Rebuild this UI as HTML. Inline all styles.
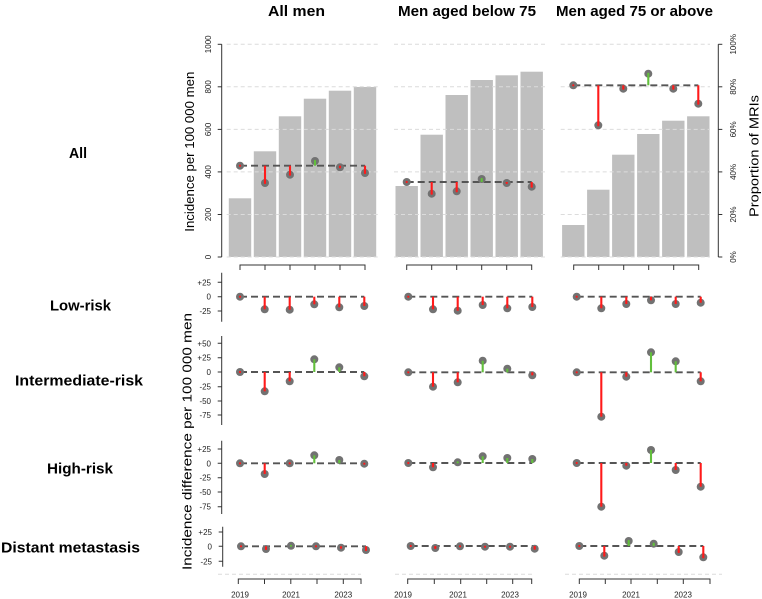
<!DOCTYPE html>
<html><head><meta charset="utf-8"><style>
html,body{margin:0;padding:0;background:#fff;}
svg{display:block;}
.t{font-family:"Liberation Sans",sans-serif;}
.b{font-family:"Liberation Sans",sans-serif;font-weight:bold;fill:#000;}
.grid{stroke:#dcdcdc;stroke-width:1;stroke-dasharray:4,3;}
.ax{stroke:#333;stroke-width:1;fill:none;}
.ref{stroke:#555;stroke-width:1.9;stroke-dasharray:7,4;}
.bar{fill:#bfbfbf;}
.pt{fill:#727272;}
.r{stroke:#ff1a1a;stroke-width:2.1;}
.g{stroke:#62bf3c;stroke-width:2.1;}
.rd{fill:#ff1a1a;}
.gd{fill:#62bf3c;}
.tl{font-family:"Liberation Sans",sans-serif;font-size:8px;fill:#222;}
</style></head><body>
<svg width="762" height="599" viewBox="0 0 762 599" xmlns="http://www.w3.org/2000/svg">
<!-- headers -->
<text class="b" x="296.5" y="16" font-size="14.5" text-anchor="middle" textLength="57" lengthAdjust="spacingAndGlyphs">All men</text>
<text class="b" x="467" y="16" font-size="14.5" text-anchor="middle" textLength="138" lengthAdjust="spacingAndGlyphs">Men aged below 75</text>
<text class="b" x="634.5" y="16" font-size="14.5" text-anchor="middle" textLength="157" lengthAdjust="spacingAndGlyphs">Men aged 75 or above</text>
<!-- row labels -->
<text class="b" x="78" y="158" font-size="15" text-anchor="middle" textLength="18" lengthAdjust="spacingAndGlyphs">All</text>
<text class="b" x="80.5" y="310.5" font-size="15" text-anchor="middle" textLength="61" lengthAdjust="spacingAndGlyphs">Low-risk</text>
<text class="b" x="79" y="385.5" font-size="15" text-anchor="middle" textLength="128" lengthAdjust="spacingAndGlyphs">Intermediate-risk</text>
<text class="b" x="80" y="473.5" font-size="15" text-anchor="middle" textLength="66" lengthAdjust="spacingAndGlyphs">High-risk</text>
<text class="b" x="70.5" y="552.5" font-size="15" text-anchor="middle" textLength="139" lengthAdjust="spacingAndGlyphs">Distant metastasis</text>
<!-- axis titles -->
<text class="t" font-size="13" fill="#000" text-anchor="middle" transform="translate(194,151.7) rotate(-90)" textLength="160" lengthAdjust="spacingAndGlyphs">Incidence per 100 000 men</text>
<text class="t" font-size="13" fill="#000" text-anchor="middle" transform="translate(191.5,441.5) rotate(-90)" textLength="257" lengthAdjust="spacingAndGlyphs">Incidence difference per 100 000 men</text>
<text class="t" font-size="13" fill="#000" text-anchor="middle" transform="translate(758.5,156) rotate(-90)" textLength="122" lengthAdjust="spacingAndGlyphs">Proportion of MRIs</text>

<!-- top bars -->
<rect class="bar" x="228.8" y="198.3" width="22.4" height="58.7"/>
<rect class="bar" x="253.8" y="151.3" width="22.4" height="105.7"/>
<rect class="bar" x="278.8" y="116.3" width="22.4" height="140.7"/>
<rect class="bar" x="303.8" y="98.7" width="22.4" height="158.3"/>
<rect class="bar" x="328.8" y="90.7" width="22.4" height="166.3"/>
<rect class="bar" x="353.8" y="87" width="22.4" height="170"/>

<rect class="bar" x="395.5" y="186" width="22.4" height="71"/>
<rect class="bar" x="420.5" y="134.7" width="22.4" height="122.3"/>
<rect class="bar" x="445.5" y="95" width="22.4" height="162"/>
<rect class="bar" x="470.5" y="80" width="22.4" height="177"/>
<rect class="bar" x="495.5" y="75.3" width="22.4" height="181.7"/>
<rect class="bar" x="520.5" y="71.7" width="22.4" height="185.3"/>

<rect class="bar" x="562.1" y="225" width="22.4" height="32"/>
<rect class="bar" x="587.1" y="189.7" width="22.4" height="67.3"/>
<rect class="bar" x="612.1" y="154.7" width="22.4" height="102.3"/>
<rect class="bar" x="637.1" y="134" width="22.4" height="123"/>
<rect class="bar" x="662.1" y="120.7" width="22.4" height="136.3"/>
<rect class="bar" x="687.1" y="116.3" width="22.4" height="140.7"/>

<!-- gridlines -->
<g class="grid">
<line x1="226.7" y1="44.3" x2="378.3" y2="44.3"/><line x1="226.7" y1="86.8" x2="378.3" y2="86.8"/><line x1="226.7" y1="129.4" x2="378.3" y2="129.4"/><line x1="226.7" y1="171.9" x2="378.3" y2="171.9"/><line x1="226.7" y1="214.5" x2="378.3" y2="214.5"/><line x1="226.7" y1="257" x2="378.3" y2="257"/>
<line x1="394" y1="44.3" x2="545" y2="44.3"/><line x1="394" y1="86.8" x2="545" y2="86.8"/><line x1="394" y1="129.4" x2="545" y2="129.4"/><line x1="394" y1="171.9" x2="545" y2="171.9"/><line x1="394" y1="214.5" x2="545" y2="214.5"/><line x1="394" y1="257" x2="545" y2="257"/>
<line x1="560.7" y1="44.3" x2="710" y2="44.3"/><line x1="560.7" y1="86.8" x2="710" y2="86.8"/><line x1="560.7" y1="129.4" x2="710" y2="129.4"/><line x1="560.7" y1="171.9" x2="710" y2="171.9"/><line x1="560.7" y1="214.5" x2="710" y2="214.5"/><line x1="560.7" y1="257" x2="710" y2="257"/>
<line x1="218" y1="574.3" x2="361" y2="574.3"/><line x1="395" y1="574.3" x2="532" y2="574.3"/><line x1="565" y1="574.3" x2="722" y2="574.3"/>
</g>

<!-- left top axis -->
<g class="ax">
<line x1="221.7" y1="44.3" x2="221.7" y2="257"/>
<line x1="217.7" y1="44.3" x2="221.7" y2="44.3"/><line x1="217.7" y1="86.8" x2="221.7" y2="86.8"/><line x1="217.7" y1="129.4" x2="221.7" y2="129.4"/><line x1="217.7" y1="171.9" x2="221.7" y2="171.9"/><line x1="217.7" y1="214.5" x2="221.7" y2="214.5"/><line x1="217.7" y1="257" x2="221.7" y2="257"/>
<line x1="718.3" y1="44.3" x2="718.3" y2="257"/>
<line x1="718.3" y1="44.3" x2="722.3" y2="44.3"/><line x1="718.3" y1="86.8" x2="722.3" y2="86.8"/><line x1="718.3" y1="129.4" x2="722.3" y2="129.4"/><line x1="718.3" y1="171.9" x2="722.3" y2="171.9"/><line x1="718.3" y1="214.5" x2="722.3" y2="214.5"/><line x1="718.3" y1="257" x2="722.3" y2="257"/>
</g>
<g class="tl" text-anchor="middle">
<text transform="translate(211,257) rotate(-90)">0</text>
<text transform="translate(211,214.5) rotate(-90)">200</text>
<text transform="translate(211,171.9) rotate(-90)">400</text>
<text transform="translate(211,129.4) rotate(-90)">600</text>
<text transform="translate(211,86.8) rotate(-90)">800</text>
<text transform="translate(211,44.3) rotate(-90)">1000</text>
<text transform="translate(736,257) rotate(-90)">0%</text>
<text transform="translate(736,214.5) rotate(-90)">20%</text>
<text transform="translate(736,171.9) rotate(-90)">40%</text>
<text transform="translate(736,129.4) rotate(-90)">60%</text>
<text transform="translate(736,86.8) rotate(-90)">80%</text>
<text transform="translate(736,44.3) rotate(-90)">100%</text>
</g>

<!-- top tick rows (between panels) -->
<g class="ax">
<path d="M240,270V265H365V270M265,265V270M290,265V270M315,265V270M340,265V270"/>
<path d="M406.7,270V265H531.7V270M431.7,265V270M456.7,265V270M481.7,265V270M506.7,265V270"/>
<path d="M573.7,270V265H698.7V270M598.7,265V270M623.7,265V270M648.7,265V270M673.7,265V270"/>
<!-- bottom axes -->
<path d="M238.3,584V579H361V584M264.5,579V584M290.8,579V584M317,579V584M343.3,579V584"/>
<path d="M407.7,584V579H531.7V584M434.3,579V584M460.7,579V584M486.7,579V584M512.7,579V584"/>
<path d="M579.3,584V579H710V584M605.3,579V584M631,579V584M657.3,579V584M683.3,579V584"/>
<!-- small y axes -->
<path d="M221.7,272.7V321.7M217.7,282.3H221.7M217.7,296.7H221.7M217.7,311H221.7"/>
<path d="M221.7,336V425M217.7,343.3H221.7M217.7,357.7H221.7M217.7,372H221.7M217.7,386.7H221.7M217.7,401H221.7M217.7,415H221.7"/>
<path d="M221.7,440.7V514M217.7,449H221.7M217.7,463.3H221.7M217.7,477.7H221.7M217.7,492H221.7M217.7,506.7H221.7"/>
<path d="M222.7,526.7V566.7M218.7,532H222.7M218.7,546.3H222.7M218.7,561.3H222.7"/>
</g>
<g class="tl" text-anchor="end">
<text x="211" y="285.3">+25</text><text x="211" y="299.7">0</text><text x="211" y="314">-25</text>
<text x="211" y="346.3">+50</text><text x="211" y="360.7">+25</text><text x="211" y="375">0</text><text x="211" y="389.7">-25</text><text x="211" y="404">-50</text><text x="211" y="418">-75</text>
<text x="211" y="452">+25</text><text x="211" y="466.3">0</text><text x="211" y="480.7">-25</text><text x="211" y="495">-50</text><text x="211" y="509.7">-75</text>
<text x="212" y="535">+25</text><text x="212" y="549.3">0</text><text x="212" y="564.3">-25</text>
</g>
<g class="tl" text-anchor="middle" font-size="8.8">
<text x="240" y="597.5">2019</text><text x="291" y="597.5">2021</text><text x="343.3" y="597.5">2023</text>
<text x="403" y="597.5">2019</text><text x="458" y="597.5">2021</text><text x="510" y="597.5">2023</text>
<text x="578" y="597.5">2019</text><text x="631" y="597.5">2021</text><text x="683" y="597.5">2023</text>
</g>

<!-- reference dashed lines -->
<g class="ref">
<line x1="240" y1="165.7" x2="365" y2="165.7"/>
<line x1="406.7" y1="182" x2="531.7" y2="182"/>
<line x1="573.3" y1="85.3" x2="698.3" y2="85.3"/>
<line x1="240" y1="296.7" x2="364.3" y2="296.7"/>
<line x1="240" y1="372" x2="364.3" y2="372"/>
<line x1="240" y1="463.3" x2="364.3" y2="463.3"/>
<line x1="241" y1="546.3" x2="366" y2="546.3"/>
<line x1="408.3" y1="296.7" x2="532.3" y2="296.7"/>
<line x1="408.3" y1="372.3" x2="532.3" y2="372.3"/>
<line x1="408.3" y1="463" x2="532.3" y2="463"/>
<line x1="410.7" y1="546" x2="534.7" y2="546"/>
<line x1="576.7" y1="296.7" x2="700.7" y2="296.7"/>
<line x1="576.7" y1="372.3" x2="700.7" y2="372.3"/>
<line x1="576.7" y1="463" x2="700.7" y2="463"/>
<line x1="579.3" y1="546" x2="703.3" y2="546"/>
</g>

<!-- points -->
<g class="pt">
<circle cx="240" cy="165.7" r="4"/><circle cx="265" cy="183" r="4"/><circle cx="290" cy="174.7" r="4"/><circle cx="315" cy="161" r="4"/><circle cx="340" cy="167.3" r="4"/><circle cx="365" cy="173" r="4"/>
<circle cx="406.7" cy="182" r="4"/><circle cx="431.7" cy="193.7" r="4"/><circle cx="456.7" cy="191.3" r="4"/><circle cx="481.7" cy="179" r="4"/><circle cx="506.7" cy="183" r="4"/><circle cx="531.7" cy="186.7" r="4"/>
<circle cx="573.3" cy="85.3" r="4"/><circle cx="598.3" cy="125.3" r="4"/><circle cx="623.3" cy="88.7" r="4"/><circle cx="648.3" cy="73.7" r="4"/><circle cx="673.3" cy="88.7" r="4"/><circle cx="698.3" cy="103.7" r="4"/>

<circle cx="240" cy="296.7" r="4"/><circle cx="264.7" cy="309.3" r="4"/><circle cx="289.7" cy="309.7" r="4"/><circle cx="314.3" cy="304.3" r="4"/><circle cx="339.3" cy="307.3" r="4"/><circle cx="364.3" cy="306" r="4"/>
<circle cx="240" cy="372" r="4"/><circle cx="264.7" cy="391.3" r="4"/><circle cx="289.7" cy="381.3" r="4"/><circle cx="314.3" cy="359.3" r="4"/><circle cx="339.3" cy="367.3" r="4"/><circle cx="364.3" cy="376.3" r="4"/>
<circle cx="240" cy="463.3" r="4"/><circle cx="264.7" cy="474" r="4"/><circle cx="289.7" cy="463.3" r="4"/><circle cx="314.3" cy="455.3" r="4"/><circle cx="339.3" cy="460" r="4"/><circle cx="364.3" cy="463.7" r="4"/>
<circle cx="241" cy="546.3" r="4"/><circle cx="266" cy="549" r="4"/><circle cx="291" cy="545.8" r="4"/><circle cx="316" cy="546.3" r="4"/><circle cx="341" cy="547.7" r="4"/><circle cx="366" cy="550" r="4"/>

<circle cx="408.3" cy="296.7" r="4"/><circle cx="433" cy="309.3" r="4"/><circle cx="457.7" cy="310.7" r="4"/><circle cx="482.7" cy="305" r="4"/><circle cx="507.3" cy="308.3" r="4"/><circle cx="532.3" cy="307" r="4"/>
<circle cx="408.3" cy="372.3" r="4"/><circle cx="433" cy="386.7" r="4"/><circle cx="457.7" cy="382.3" r="4"/><circle cx="482.7" cy="360.7" r="4"/><circle cx="507.3" cy="368.7" r="4"/><circle cx="532.3" cy="375.3" r="4"/>
<circle cx="408.3" cy="463" r="4"/><circle cx="433" cy="467.3" r="4"/><circle cx="457.7" cy="462.3" r="4"/><circle cx="482.7" cy="456.3" r="4"/><circle cx="507.3" cy="458" r="4"/><circle cx="532.3" cy="459" r="4"/>
<circle cx="410.7" cy="546" r="4"/><circle cx="435.3" cy="548" r="4"/><circle cx="460" cy="546.3" r="4"/><circle cx="485" cy="546.7" r="4"/><circle cx="510" cy="546.7" r="4"/><circle cx="534.7" cy="548.7" r="4"/>

<circle cx="576.7" cy="296.7" r="4"/><circle cx="601.3" cy="308.3" r="4"/><circle cx="626.3" cy="304" r="4"/><circle cx="651" cy="300.3" r="4"/><circle cx="675.7" cy="304" r="4"/><circle cx="700.7" cy="302.7" r="4"/>
<circle cx="576.7" cy="372.3" r="4"/><circle cx="601.3" cy="416.7" r="4"/><circle cx="626.3" cy="376.7" r="4"/><circle cx="651" cy="352.3" r="4"/><circle cx="675.7" cy="361.3" r="4"/><circle cx="700.7" cy="381.3" r="4"/>
<circle cx="576.7" cy="463" r="4"/><circle cx="601.3" cy="506.7" r="4"/><circle cx="626.3" cy="465.7" r="4"/><circle cx="651" cy="450" r="4"/><circle cx="675.7" cy="470" r="4"/><circle cx="700.7" cy="486.7" r="4"/>
<circle cx="579.3" cy="546" r="4"/><circle cx="604.3" cy="555.7" r="4"/><circle cx="628.7" cy="541" r="4"/><circle cx="653.7" cy="543.7" r="4"/><circle cx="678.7" cy="552" r="4"/><circle cx="703.3" cy="557.3" r="4"/>
</g>

<!-- stems -->
<g class="r">
<line x1="265" y1="165.7" x2="265" y2="183"/><line x1="290" y1="165.7" x2="290" y2="174.7"/><line x1="340" y1="165.7" x2="340" y2="167.3"/><line x1="365" y1="165.7" x2="365" y2="173"/>
<line x1="431.7" y1="182" x2="431.7" y2="193.7"/><line x1="456.7" y1="182" x2="456.7" y2="191.3"/><line x1="506.7" y1="182" x2="506.7" y2="183"/><line x1="531.7" y1="182" x2="531.7" y2="186.7"/>
<line x1="598.3" y1="85.3" x2="598.3" y2="125.3"/><line x1="623.3" y1="85.3" x2="623.3" y2="88.7"/><line x1="673.3" y1="85.3" x2="673.3" y2="88.7"/><line x1="698.3" y1="85.3" x2="698.3" y2="103.7"/>

<line x1="264.7" y1="296.7" x2="264.7" y2="309.3"/><line x1="289.7" y1="296.7" x2="289.7" y2="309.7"/><line x1="314.3" y1="296.7" x2="314.3" y2="304.3"/><line x1="339.3" y1="296.7" x2="339.3" y2="307.3"/><line x1="364.3" y1="296.7" x2="364.3" y2="306"/>
<line x1="264.7" y1="372" x2="264.7" y2="391.3"/><line x1="289.7" y1="372" x2="289.7" y2="381.3"/><line x1="364.3" y1="372" x2="364.3" y2="376.3"/>
<line x1="264.7" y1="463.3" x2="264.7" y2="474"/><line x1="364.3" y1="463.3" x2="364.3" y2="463.7"/>
<line x1="266" y1="546.3" x2="266" y2="549"/><line x1="341" y1="546.3" x2="341" y2="547.7"/><line x1="366" y1="546.3" x2="366" y2="550"/>

<line x1="433" y1="296.7" x2="433" y2="309.3"/><line x1="457.7" y1="296.7" x2="457.7" y2="310.7"/><line x1="482.7" y1="296.7" x2="482.7" y2="305"/><line x1="507.3" y1="296.7" x2="507.3" y2="308.3"/><line x1="532.3" y1="296.7" x2="532.3" y2="307"/>
<line x1="433" y1="372.3" x2="433" y2="386.7"/><line x1="457.7" y1="372.3" x2="457.7" y2="382.3"/><line x1="532.3" y1="372.3" x2="532.3" y2="375.3"/>
<line x1="433" y1="463" x2="433" y2="467.3"/>
<line x1="435.3" y1="546" x2="435.3" y2="548"/><line x1="534.7" y1="546" x2="534.7" y2="548.7"/>

<line x1="601.3" y1="296.7" x2="601.3" y2="308.3"/><line x1="626.3" y1="296.7" x2="626.3" y2="304"/><line x1="651" y1="296.7" x2="651" y2="300.3"/><line x1="675.7" y1="296.7" x2="675.7" y2="304"/><line x1="700.7" y1="296.7" x2="700.7" y2="302.7"/>
<line x1="601.3" y1="372.3" x2="601.3" y2="416.7"/><line x1="626.3" y1="372.3" x2="626.3" y2="376.7"/><line x1="700.7" y1="372.3" x2="700.7" y2="381.3"/>
<line x1="601.3" y1="463" x2="601.3" y2="506.7"/><line x1="626.3" y1="463" x2="626.3" y2="465.7"/><line x1="675.7" y1="463" x2="675.7" y2="470"/><line x1="700.7" y1="463" x2="700.7" y2="486.7"/>
<line x1="604.3" y1="546" x2="604.3" y2="555.7"/><line x1="678.7" y1="546" x2="678.7" y2="552"/><line x1="703.3" y1="546" x2="703.3" y2="557.3"/>
</g>
<g class="g">
<line x1="315" y1="165.7" x2="315" y2="161"/>
<line x1="481.7" y1="182" x2="481.7" y2="179"/>
<line x1="648.3" y1="85.3" x2="648.3" y2="73.7"/>
<line x1="314.3" y1="372" x2="314.3" y2="359.3"/><line x1="339.3" y1="372" x2="339.3" y2="367.3"/>
<line x1="314.3" y1="463.3" x2="314.3" y2="455.3"/><line x1="339.3" y1="463.3" x2="339.3" y2="460"/>
<line x1="482.7" y1="372.3" x2="482.7" y2="360.7"/><line x1="507.3" y1="372.3" x2="507.3" y2="368.7"/>
<line x1="457.7" y1="463" x2="457.7" y2="462.3"/><line x1="482.7" y1="463" x2="482.7" y2="456.3"/><line x1="507.3" y1="463" x2="507.3" y2="458"/><line x1="532.3" y1="463" x2="532.3" y2="459"/>
<line x1="651" y1="372.3" x2="651" y2="352.3"/><line x1="675.7" y1="372.3" x2="675.7" y2="361.3"/>
<line x1="651" y1="463" x2="651" y2="450"/>
<line x1="628.7" y1="546" x2="628.7" y2="541"/><line x1="653.7" y1="546" x2="653.7" y2="543.7"/>
</g>
<!-- center dots -->
<g class="rd">
<circle cx="240" cy="165.7" r="1.1"/><circle cx="265" cy="183" r="1.1"/><circle cx="290" cy="174.7" r="1.1"/><circle cx="340" cy="167.3" r="1.1"/><circle cx="365" cy="173" r="1.1"/>
<circle cx="406.7" cy="182" r="1.1"/><circle cx="431.7" cy="193.7" r="1.1"/><circle cx="456.7" cy="191.3" r="1.1"/><circle cx="506.7" cy="183" r="1.1"/><circle cx="531.7" cy="186.7" r="1.1"/>
<circle cx="573.3" cy="85.3" r="1.1"/><circle cx="598.3" cy="125.3" r="1.1"/><circle cx="623.3" cy="88.7" r="1.1"/><circle cx="673.3" cy="88.7" r="1.1"/><circle cx="698.3" cy="103.7" r="1.1"/>
<circle cx="240" cy="296.7" r="1.1"/><circle cx="240" cy="372" r="1.1"/><circle cx="240" cy="463.3" r="1.1"/><circle cx="241" cy="546.3" r="1.1"/>
<circle cx="289.7" cy="463.3" r="1.1"/><circle cx="316" cy="546.3" r="1.1"/><circle cx="266" cy="549" r="1.1"/><circle cx="341" cy="547.7" r="1.1"/><circle cx="366" cy="550" r="1.1"/><circle cx="364.3" cy="463.7" r="1.1"/>
<circle cx="408.3" cy="296.7" r="1.1"/><circle cx="408.3" cy="372.3" r="1.1"/><circle cx="408.3" cy="463" r="1.1"/><circle cx="410.7" cy="546" r="1.1"/>
<circle cx="435.3" cy="548" r="1.1"/><circle cx="460" cy="546.3" r="1.1"/><circle cx="485" cy="546.7" r="1.1"/><circle cx="510" cy="546.7" r="1.1"/><circle cx="534.7" cy="548.7" r="1.1"/>
<circle cx="576.7" cy="296.7" r="1.1"/><circle cx="576.7" cy="372.3" r="1.1"/><circle cx="576.7" cy="463" r="1.1"/><circle cx="579.3" cy="546" r="1.1"/>
<circle cx="604.3" cy="555.7" r="1.1"/><circle cx="678.7" cy="552" r="1.1"/><circle cx="703.3" cy="557.3" r="1.1"/>
</g>
<g class="gd">
<circle cx="315" cy="161" r="1.1"/><circle cx="481.7" cy="179" r="1.1"/><circle cx="648.3" cy="73.7" r="1.1"/>
<circle cx="291" cy="545.8" r="1.1"/><circle cx="457.7" cy="462.3" r="1.1"/><circle cx="628.7" cy="541" r="1.1"/><circle cx="653.7" cy="543.7" r="1.1"/>
</g>
</svg>
</body></html>
